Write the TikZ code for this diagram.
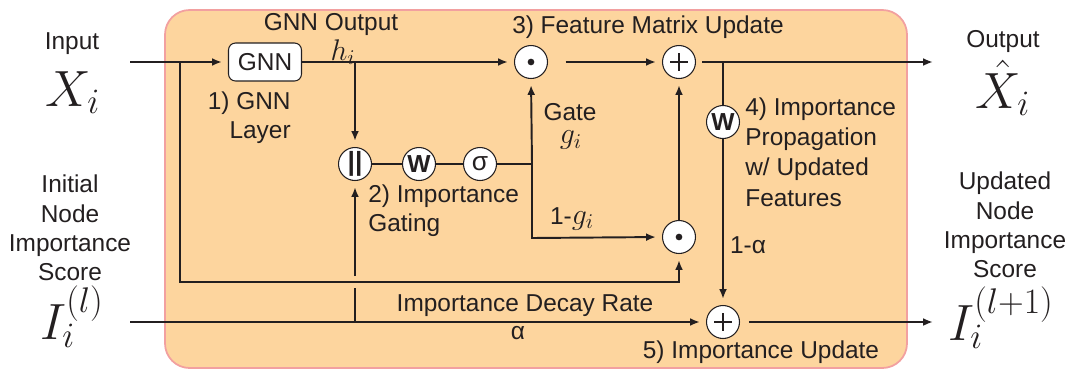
\RequirePackage{fix-cm}
\documentclass[tikz,border=0pt]{standalone}
\usepackage[no-math]{fontspec}
\setmainfont{Liberation Sans}
\usetikzlibrary{arrows.meta}
\definecolor{boxfill}{RGB}{253,213,158}
\definecolor{boxedge}{RGB}{242,160,160}
\definecolor{ink}{RGB}{35,31,32}
\newcommand{\mathbig}[1]{{\fontsize{17pt}{17pt}\selectfont$#1$}}
\begin{document}
\begin{tikzpicture}[x=0.02cm,y=-0.02cm,
  font=\fontsize{13.9pt}{16.6pt}\selectfont,
  every node/.style={text=ink},
  op/.style={circle,draw=ink,line width=0.6pt,fill=white,minimum size=0.66cm,inner sep=0pt},
  dotop/.style={op,path picture={\fill[ink] (path picture bounding box.center) circle (1.9pt);}},
  plusop/.style={op,path picture={\draw[ink,line width=1.5pt]
      ([xshift=-5pt]path picture bounding box.center) -- ([xshift=5pt]path picture bounding box.center)
      ([yshift=-5pt]path picture bounding box.center) -- ([yshift=5pt]path picture bounding box.center);}},
  wire/.style={draw=ink,line width=1.1pt},
  arr/.style={wire,-{Latex[length=5.5pt,width=4.5pt]},shorten >=3.5pt},
  bigmath/.style={font=\fontsize{29pt}{30pt}\selectfont},
  lbl/.style={inner sep=0pt},
]
\useasboundingbox (0,0) rectangle (1065,369);
% background panel
\draw[draw=boxedge,fill=boxfill,line width=1pt,rounded corners=14pt] (165,10) rectangle (907,368);

% outer labels
\node[lbl] (inlbl) at (72,44) {Input};
\node[lbl,bigmath,anchor=base] (Xi) at (73,106) {$X_i$};
\node[lbl] (outlbl) at (1003,42) {Output};
\node[lbl,bigmath,anchor=base] (Xo) at (1003,108) {$\hat{X}_i$};
\node[lbl,align=center] (initlbl) at (70,228) {Initial\\Node\\Importance\\Score};
\node[lbl,bigmath,anchor=base] (Il) at (72,339) {$I_i^{(l)}$};
\node[lbl,align=center] (updlbl) at (1005,225) {Updated\\Node\\Importance\\Score};
\node[lbl,bigmath,anchor=base] (Il1) at (1001,340) {$I_i^{(l+1)}$};

% operator nodes
\node[draw=ink,line width=0.6pt,fill=white,rounded corners=4pt,minimum width=1.46cm,minimum height=0.76cm,inner sep=0pt] (gnn) at (265,62) {GNN};
\node[dotop] (od1) at (531,62) {};
\node[plusop] (pl1) at (679,62) {};
\node[op,font=\fontsize{15pt}{16pt}\selectfont\bfseries] (cat) at (355,164) {||};
\node[op,font=\fontsize{14pt}{16pt}\selectfont\bfseries] (w1) at (419,164) {W};
\node[op,font=\fontsize{15pt}{16pt}\selectfont] (sig) at (480,164) {σ};
\node[dotop] (od2) at (679,237) {};
\node[op,font=\fontsize{14pt}{16pt}\selectfont\bfseries] (w2) at (723,122) {W};
\node[plusop] (pl2) at (723,322) {};

% inner labels
\node[lbl] (gnnout) at (331,25) {GNN Output};
\node[lbl] (hi) at (343,52) {\mathbig{h_i}};
\node[lbl,align=right,anchor=east] (l1) at (291,118) {1) GNN\\Layer};
\node[lbl] (l3) at (648,27) {3) Feature Matrix Update};
\node[lbl,align=left,anchor=west] (l2) at (368,211) {2) Importance\\Gating};
\node[lbl] (gate) at (570,112) {Gate};
\node[lbl] (gi) at (571,140) {\mathbig{g_i}};
\node[lbl] (omg) at (572,219) {1-\mathbig{g_i}};
\node[lbl,align=left,anchor=west,font=\fontsize{13.9pt}{17.2pt}\selectfont] (l4) at (745,152) {4) Importance\\Propagation\\w/ Updated\\Features};
\node[lbl] (oma) at (748,245) {1-α};
\node[lbl] (decay) at (525,306) {Importance Decay Rate};
\node[lbl] (alpha) at (518,333) {α};
\node[lbl] (l5) at (761,352) {5) Importance Update};

% coordinates
\coordinate (inS) at (130,62);
\coordinate (jA) at (180,62);
\coordinate (jAb) at (180,282);
\coordinate (jH) at (355,62);
\coordinate (jG) at (532,164);
\coordinate (jGb) at (532,238);
\coordinate (jW) at (723,62);
\coordinate (outE) at (939,62);
\coordinate (IS) at (130,322);
\coordinate (jI) at (355,322);
\coordinate (hopLo) at (355,288);
\coordinate (hopHi) at (355,276);
\coordinate (IE) at (939,322);

% connectors
\draw[arr] (inS) -- (gnn.west);
\draw[arr] (jA) -- (jAb) -| (od2.south);
\draw[arr] (gnn.east) -- (od1.west);
\draw[arr] (jH) -- (cat.north);
\draw[wire] (cat.east) -- (w1.west) (w1.east) -- (sig.west) (sig.east) -- (jG);
\draw[arr] (jG) -- (od1.south);
\draw[arr] (jG) -- (jGb) -- (od2.west);
\draw[arr] (od2.north) -- (pl1.south);
\draw[arr,shorten <=10pt] (od1.east) -- (pl1.west);
\draw[arr,shorten <=3.5pt] (pl1.east) -- (outE);
\draw[wire] (jW) -- (w2.north);
\draw[arr] (w2.south) -- (pl2.north);
\draw[arr] (IS) -- (pl2.west);
\draw[wire] (jI) -- (hopLo);
\draw[arr] (hopHi) -- (cat.south);
\draw[arr,shorten <=5pt] (pl2.east) -- (IE);
\end{tikzpicture}
\end{document}
